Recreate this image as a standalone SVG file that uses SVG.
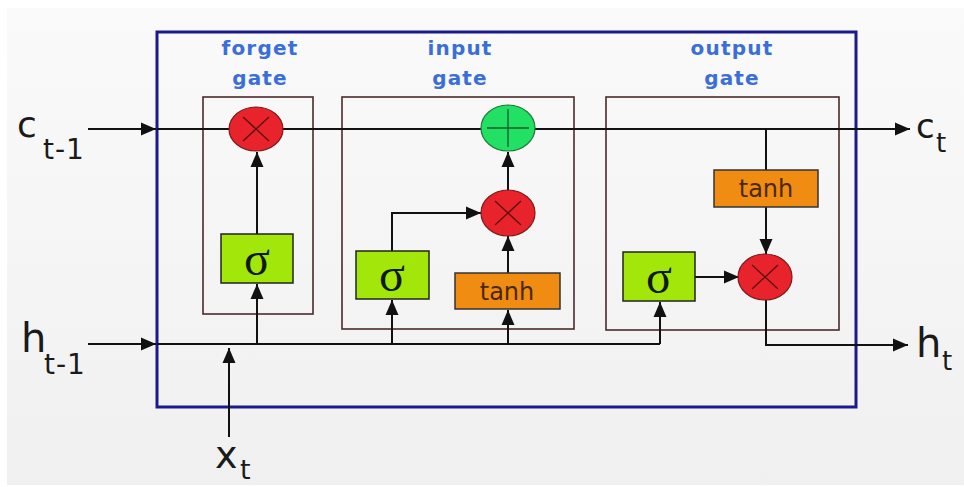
<svg xmlns="http://www.w3.org/2000/svg" width="964" height="487" viewBox="0 0 964 487">
  <style>
    .wire { fill: none; stroke: #111; stroke-width: 2; }
    .gatebox { fill: none; stroke: #4a2a2a; stroke-width: 1.6; }
    .mul { fill: #e8232b; stroke: #7a1a1a; stroke-width: 1.2; }
    .add { fill: #22e064; stroke: #1a7a3a; stroke-width: 1.2; }
    .sym { stroke: #5a1010; stroke-width: 1.3; fill: none; }
    .symg { stroke: #1a5a2a; stroke-width: 1.3; fill: none; }
    .sig { fill: #a2e60a; stroke: #222; stroke-width: 1.5; }
    .tanh { fill: #f08c12; stroke: #333; stroke-width: 1.5; }
    .sigtxt { font-family: "Liberation Serif", "DejaVu Serif", serif; font-size: 48px; fill: #0e1a0e; text-anchor: middle; }
    .tanhtxt { font-family: "DejaVu Sans", sans-serif; font-size: 24px; fill: #4a2800; text-anchor: middle; }
    .gate { font-family: "DejaVu Sans", sans-serif; font-weight: bold; font-size: 20px; letter-spacing: 1.2px; fill: #3a6fd8; text-anchor: middle; }
    .lbl { font-family: "DejaVu Sans", sans-serif; fill: #1a1a1a; }
  </style>
  <defs>
    <linearGradient id="bg" x1="0" y1="0" x2="0" y2="1">
      <stop offset="0" stop-color="#fafafa"/>
      <stop offset="1" stop-color="#f0f0f0"/>
    </linearGradient>
    <marker id="arrow" markerUnits="userSpaceOnUse" markerWidth="15" markerHeight="15" viewBox="0 0 15 15" refX="15" refY="7.5" orient="auto">
      <path d="M0,1 L15,7.5 L0,14 Z" fill="#111"/>
    </marker>
  </defs>

  <!-- page -->
  <rect width="964" height="487" fill="#ffffff"/>
  <rect x="7" y="8" width="957" height="477" fill="url(#bg)"/>

  <!-- cell boundary -->
  <rect id="cell" x="157" y="32" width="699" height="375" fill="none" stroke="#1a1a8c" stroke-width="3"/>

  <!-- gate regions -->
  <g id="forget-gate-region">
    <rect class="gatebox" x="203" y="97" width="110" height="217"/>
    <text class="gate" x="260" y="55">forget</text>
    <text class="gate" x="260" y="85">gate</text>
  </g>
  <g id="input-gate-region">
    <rect class="gatebox" x="342" y="97" width="232" height="232"/>
    <text class="gate" x="460" y="55">input</text>
    <text class="gate" x="460" y="85">gate</text>
  </g>
  <g id="output-gate-region">
    <rect class="gatebox" x="606" y="97" width="233" height="233"/>
    <text class="gate" x="732" y="55">output</text>
    <text class="gate" x="732" y="85">gate</text>
  </g>

  <!-- connectors -->
  <g id="connectors">
    <path class="wire" d="M88 129 H156" marker-end="url(#arrow)"/>
    <path class="wire" d="M157 129 H910" marker-end="url(#arrow)"/>
    <path class="wire" d="M88 344 H156" marker-end="url(#arrow)"/>
    <path class="wire" d="M157 344 H660"/>
    <path class="wire" d="M229 437 V348" marker-end="url(#arrow)"/>
    <!-- forget gate -->
    <path class="wire" d="M257 344 V284" marker-end="url(#arrow)"/>
    <path class="wire" d="M257 234 V152" marker-end="url(#arrow)"/>
    <!-- input gate -->
    <path class="wire" d="M392 344 V300" marker-end="url(#arrow)"/>
    <path class="wire" d="M392 251 V213 H481" marker-end="url(#arrow)"/>
    <path class="wire" d="M508 344 V310" marker-end="url(#arrow)"/>
    <path class="wire" d="M508 273 V236" marker-end="url(#arrow)"/>
    <path class="wire" d="M508 190 V152" marker-end="url(#arrow)"/>
    <!-- output gate -->
    <path class="wire" d="M660 344 V302" marker-end="url(#arrow)"/>
    <path class="wire" d="M695 277 H739" marker-end="url(#arrow)"/>
    <path class="wire" d="M766 129 V170"/>
    <path class="wire" d="M766 207 V254" marker-end="url(#arrow)"/>
    <path class="wire" d="M766 300 V345 H908" marker-end="url(#arrow)"/>
  </g>

  <!-- operations -->
  <g id="forget-mul">
    <ellipse class="mul" cx="256" cy="129" rx="27" ry="22"/>
    <path class="sym" d="M243 117 L269 141 M269 117 L243 141"/>
  </g>
  <g id="cell-add">
    <ellipse class="add" cx="508" cy="128" rx="27" ry="23"/>
    <path class="symg" d="M487 128 H529 M508 109 V147"/>
  </g>
  <g id="input-mul">
    <ellipse class="mul" cx="508" cy="213" rx="27" ry="23"/>
    <path class="sym" d="M495 201 L521 225 M521 201 L495 225"/>
  </g>
  <g id="output-mul">
    <ellipse class="mul" cx="765" cy="277" rx="27" ry="23"/>
    <path class="sym" d="M752 265 L778 289 M778 265 L752 289"/>
  </g>

  <!-- activation blocks -->
  <g id="forget-sigma">
    <rect class="sig" x="221" y="234" width="72" height="49"/>
    <text class="sigtxt" x="257" y="275">σ</text>
  </g>
  <g id="input-sigma">
    <rect class="sig" x="356" y="251" width="73" height="48"/>
    <text class="sigtxt" x="392" y="291">σ</text>
  </g>
  <g id="input-tanh">
    <rect class="tanh" x="455" y="273" width="105" height="36"/>
    <text class="tanhtxt" x="507" y="300">tanh</text>
  </g>
  <g id="output-tanh">
    <rect class="tanh" x="714" y="170" width="104" height="37"/>
    <text class="tanhtxt" x="766" y="197">tanh</text>
  </g>
  <g id="output-sigma">
    <rect class="sig" x="623" y="252" width="72" height="49"/>
    <text class="sigtxt" x="659" y="293">σ</text>
  </g>

  <!-- signal labels -->
  <g id="label-c-prev">
    <text class="lbl" x="17" y="137" font-size="36">c</text>
    <text class="lbl" x="43" y="159" font-size="28" letter-spacing="1">t-1</text>
  </g>
  <g id="label-h-prev">
    <text class="lbl" x="21" y="352" font-size="40">h</text>
    <text class="lbl" x="44" y="374" font-size="28" letter-spacing="1">t-1</text>
  </g>
  <g id="label-x">
    <text class="lbl" x="215" y="468" font-size="38">x</text>
    <text class="lbl" x="240" y="479" font-size="27">t</text>
  </g>
  <g id="label-c">
    <text class="lbl" x="916" y="138" font-size="34">c</text>
    <text class="lbl" x="936" y="152" font-size="26">t</text>
  </g>
  <g id="label-h">
    <text class="lbl" x="916" y="357" font-size="40">h</text>
    <text class="lbl" x="942" y="370" font-size="26">t</text>
  </g>
</svg>
